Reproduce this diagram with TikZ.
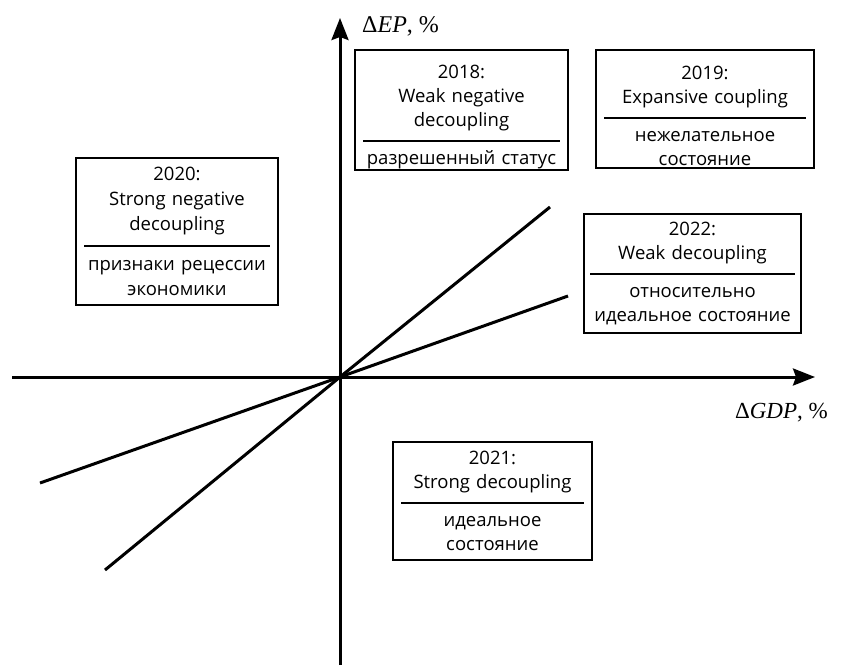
\documentclass[tikz,border=0pt]{standalone}
\usepackage{fontspec}
\setmainfont{Open Sans}
\newfontfamily\axisfont{Liberation Serif}
\usetikzlibrary{positioning, arrows.meta}
\newcommand{\divider}{\\[-9pt]\rule{\linewidth}{2pt}\\[-1pt]}
\newcommand{\lift}{\rule{0pt}{28pt}}

\begin{document}
\begin{tikzpicture}[
  x=1pt, y=-1pt,
  font=\fontsize{18.5}{24}\selectfont,
  quad/.style={draw, line width=2pt, align=center, inner xsep=8pt, inner ysep=0pt},
  axis/.style={-{Stealth[length=22pt, width=17pt, inset=3pt]}, line width=3pt},
  trend/.style={line width=3pt},
  axlabel/.style={font=\axisfont\fontsize{23}{26}\selectfont, inner sep=0pt}
]
\useasboundingbox (0,0) rectangle (843,667);

% axes
\coordinate (O) at (340,377);
\coordinate (xfrom) at (12,377);
\coordinate (xto) at (815,377);
\coordinate (yfrom) at (340,665);
\coordinate (yto) at (340,18);
\draw[axis] (xfrom) -- (xto);
\draw[axis] (yfrom) -- (yto);
\node[axlabel, anchor=west, font=\axisfont\fontsize{24}{26}\selectfont] (eplab) at (362,26) {Δ\textit{EP}, \%};
\node[axlabel, anchor=east] (gdplab) at (828,413) {Δ\textit{GDP}, \%};

% trend lines through the origin
\coordinate (steepA) at (105,570);
\coordinate (steepB) at (550,207);
\coordinate (flatA) at (40,483);
\coordinate (flatB) at (568,296);
\draw[trend] (steepA) -- (O) -- (steepB);
\draw[trend] (flatA) -- (O) -- (flatB);

% quadrant boxes
\node[quad, text width=197pt, minimum height=120pt] (y2018) at (461.5,110)
  {\lift 2018:\\Weak negative\\decoupling\divider разрешенный статус};
\node[quad, text width=202pt, minimum height=118pt] (y2019) at (705,109)
  {\lift 2019:\\Expansive coupling\divider нежелательное\\состояние};
\node[quad, text width=186pt, minimum height=147pt, font=\fontsize{18.5}{25}\selectfont] (y2020) at (177,231.5)
  {2020:\\Strong negative\\decoupling\divider признаки рецессии\\экономики};
\node[quad, text width=205pt, inner xsep=6pt, minimum height=119pt] (y2022) at (692.5,273.5)
  {2022:\\Weak decoupling\divider относительно\\идеальное состояние};
\node[quad, text width=183pt, minimum height=118pt] (y2021) at (492.5,501)
  {2021:\\Strong decoupling\divider идеальное\\состояние};
\end{tikzpicture}
\end{document}
